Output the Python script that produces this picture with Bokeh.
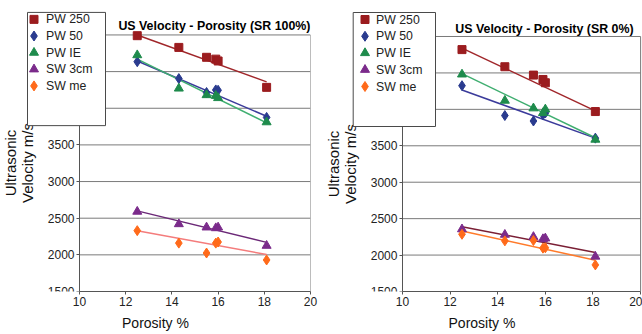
from bokeh.plotting import figure
from bokeh.models import Range1d, FixedTicker, ColumnDataSource, Label
from bokeh.core.properties import value
from bokeh.layouts import row
from bokeh.embed import file_html
from bokeh.resources import INLINE

# ---------------- data ----------------
porosity = [12.5, 14.3, 15.5, 15.9, 16.0, 18.1]
series_names = ["PW 250", "PW 50", "PW IE", "SW 3cm", "SW me"]
x_ticks = [10, 12, 14, 16, 18, 20]
y_ticks = [1500, 2000, 2500, 3000, 3500, 4000, 4500, 5000]

# SR 100 %
sr100_pw250 = [4990, 4830, 4695, 4670, 4645, 4285]
sr100_pw50 = [4635, 4405, 4215, 4250, 4245, 3875]
sr100_pwie = [4725, 4270, 4180, 4170, 4140, 3810]
sr100_sw3cm = [2590, 2420, 2375, 2365, 2375, 2125]
sr100_swme = [2330, 2160, 2025, 2160, 2175, 1930]

# SR 0 %
sr0_pw250 = [4820, 4585, 4470, 4410, 4365, 3970]
sr0_pw50 = [4325, 3915, 3840, 3925, 3950, 3605]
sr0_pwie = [4480, 4120, 4015, 3950, 4000, 3585]
sr0_sw3cm = [2355, 2280, 2250, 2220, 2230, 1980]
sr0_swme = [2285, 2195, 2200, 2095, 2100, 1865]

# trend lines (start/end at first/last porosity)
trend_x = [12.5, 18.1]
sr100_trend_pw250 = [5000, 4360]
sr100_trend_pw50 = [4645, 3890]
sr100_trend_pwie = [4670, 3800]
sr100_trend_sw3cm = [2600, 2170]
sr100_trend_swme = [2330, 2005]

sr0_trend_pw250 = [4840, 3980]
sr0_trend_pw50 = [4265, 3605]
sr0_trend_pwie = [4490, 3610]
sr0_trend_sw3cm = [2390, 2035]
sr0_trend_swme = [2330, 1930]

# ---------------- styles ----------------
FONT = "Liberation Sans"
marker_colors = ["#9B1C1F", "#2A3B8F", "#1E8B4C", "#7B2B8B", "#FF6A1A"]
markers = ["square", "diamond", "triangle", "triangle", "diamond"]
marker_sizes = [8, 10, 9, 9, 10]
sr100_line_colors = ["#A0262A", "#3B3B9B", "#3FAE70", "#6B2877", "#F47C7C"]
sr0_line_colors = ["#A0262A", "#3B3B9B", "#3FAE70", "#7A1F35", "#FF7A2A"]
GRID = "#7a7a7a"
FIG_W, FIG_H = 321, 334


def make_panel(title, values, trends, line_colors, xr, yr, border_right, border_bottom,
               legend_box, legend_marker_x, legend_label_x, title_y, title_dx):
    p = figure(width=FIG_W, height=FIG_H, x_range=Range1d(*xr), y_range=Range1d(*yr),
               output_backend="svg", toolbar_location=None,
               min_border_left=0, min_border_right=border_right,
               min_border_top=0, min_border_bottom=border_bottom)
    fw = FIG_W - border_right
    fh = FIG_H - border_bottom

    def px2x(px):
        return xr[0] + px * (xr[1] - xr[0]) / fw

    def py2y(py):
        return yr[1] - py * (yr[1] - yr[0]) / fh

    p.outline_line_color = None
    p.xgrid.visible = False
    p.ygrid.visible = False
    p.background_fill_color = "white"
    p.border_fill_color = "white"

    # horizontal grid lines + right border, limited to the axis extent
    gsrc = ColumnDataSource(dict(x0=[x_ticks[0]] * len(y_ticks), x1=[x_ticks[-1]] * len(y_ticks),
                                 y=y_ticks))
    p.segment(x0="x0", x1="x1", y0="y", y1="y", source=gsrc, line_color=GRID, line_width=1)
    p.segment(x0=[x_ticks[-1]], x1=[x_ticks[-1]], y0=[y_ticks[0]], y1=[y_ticks[-1]],
              line_color=GRID, line_width=1)

    p.xaxis.ticker = FixedTicker(ticks=x_ticks)
    p.yaxis.ticker = FixedTicker(ticks=y_ticks)
    p.xaxis.bounds = (x_ticks[0], x_ticks[-1])
    p.yaxis.bounds = (y_ticks[0], y_ticks[-1])
    p.yaxis.fixed_location = x_ticks[0]
    for ax in (p.xaxis[0], p.yaxis[0]):
        ax.axis_line_color = "#555555"
        ax.major_tick_line_color = "#555555"
        ax.major_tick_out = 3
        ax.major_tick_in = 0
        ax.minor_tick_out = 0
        ax.minor_tick_in = 0
        ax.major_label_text_font = FONT
        ax.major_label_text_font_size = "12px"
        ax.major_label_text_color = "#222222"
        ax.major_label_standoff = 2
        ax.axis_label_text_font = FONT
        ax.axis_label_text_font_style = "normal"
        ax.axis_label_text_color = "#111111"
    p.xaxis.axis_label = "Porosity %"
    p.xaxis.axis_label_text_font_size = "14px"
    p.xaxis.axis_label_standoff = 6
    p.yaxis.axis_label = "Ultrasonic\nVelocity m/s"
    p.yaxis.axis_label_text_font_size = "15px"
    p.yaxis.axis_label_text_line_height = 1.0
    p.yaxis.axis_label_standoff = 9

    for ty, lc in zip(trends, line_colors):
        p.line(trend_x, ty, line_color=lc, line_width=1.5)

    for vals, mk, mc, ms in zip(values, markers, marker_colors, marker_sizes):
        src = ColumnDataSource(dict(x=porosity, y=vals))
        p.scatter("x", "y", source=src, marker=mk, size=ms, fill_color=mc,
                  line_color=mc, line_width=1)

    # ---- legend box (drawn above the axis, partly over the y tick labels) ----
    bl, br, bt, bb = legend_box
    p.quad(left=[px2x(bl)], right=[px2x(br)], top=[py2y(bt)], bottom=[py2y(bb)],
           fill_color="white", line_color="#4a4a4a", line_width=1, level="overlay")
    row_y = [py2y(19 + 16.75 * i) for i in range(len(series_names))]
    for i, (mk, mc, ms) in enumerate(zip(markers, marker_colors, marker_sizes)):
        p.scatter(x=[px2x(legend_marker_x)], y=[row_y[i]], marker=mk, size=ms,
                  fill_color=mc, line_color=mc, level="overlay")
    p.text(x=[px2x(legend_label_x)] * len(series_names), y=row_y, text=series_names,
           text_font=value(FONT), text_font_size="12.3px", text_color="#222222",
           text_baseline="middle", text_align="left", level="overlay")

    p.add_layout(Label(x=x_ticks[-1], y=title_y, x_units="data", y_units="screen",
                       x_offset=title_dx, text=title, text_align="right",
                       text_baseline="alphabetic", text_font=FONT,
                       text_font_size="12.4px", text_font_style="bold", text_color="#000000"))
    return p


p1 = make_panel("US Velocity - Porosity (SR 100%)",
                [sr100_pw250, sr100_pw50, sr100_pwie, sr100_sw3cm, sr100_swme],
                [sr100_trend_pw250, sr100_trend_pw50, sr100_trend_pwie, sr100_trend_sw3cm, sr100_trend_swme],
                sr100_line_colors, (6.58, 20.0), (1500, 5470), 11, 41,
                (27, 105, 12, 126), 33.5, 45.5, 266, 0)
p2 = make_panel("US Velocity - Porosity (SR 0%)",
                [sr0_pw250, sr0_pw50, sr0_pwie, sr0_sw3cm, sr0_swme],
                [sr0_trend_pw250, sr0_trend_pw50, sr0_trend_pwie, sr0_trend_sw3cm, sr0_trend_swme],
                sr0_line_colors, (6.60, 20.08), (1500, 5494), 0, 43,
                (31.7, 114, 12, 126), 43.5, 54.5, 263, -7)

layout = row(p1, p2)
open("out.html", "w").write(file_html(layout, INLINE))
